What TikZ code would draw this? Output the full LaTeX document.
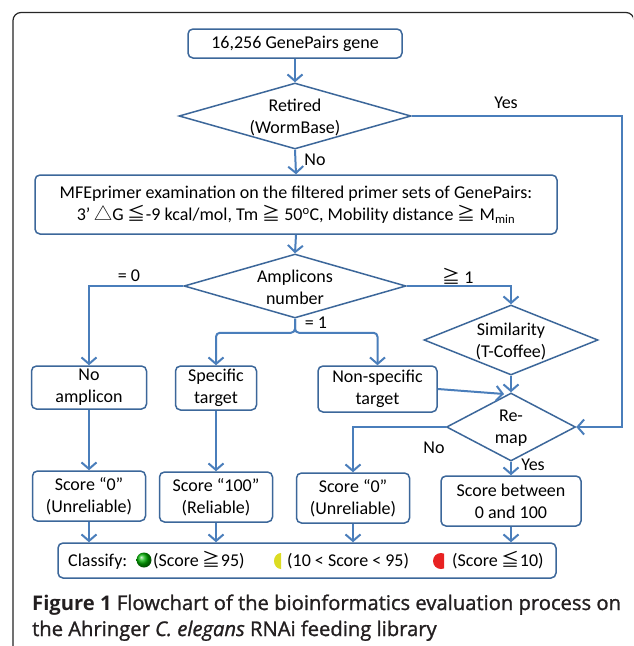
\documentclass[tikz,border=0pt]{standalone}
\usepackage{fontspec}
\setmainfont{Carlito}
\newfontfamily\cjk{Noto Sans CJK SC}
\newfontfamily\capfont[UprightFeatures={FakeBold=1.2},ItalicFeatures={FakeBold=1.2}]{Open Sans}
\usetikzlibrary{shapes.geometric,arrows.meta}
\definecolor{conn}{HTML}{4A7EBB}
\definecolor{edgec}{HTML}{3C679A}
\definecolor{ycol}{HTML}{DCDC22}
\definecolor{rcol}{HTML}{E82222}
\definecolor{capc}{HTML}{231F20}
\begin{document}
\begin{tikzpicture}[x=1pt,y=-1pt,
  font=\fontsize{18}{22}\selectfont,
  box/.style={draw=edgec, line width=1.5pt, rounded corners=5pt, fill=white, inner sep=0pt, align=center},
  dia/.style={draw=edgec, line width=1.5pt, diamond, fill=white, inner sep=0pt},
  txt/.style={inner sep=0pt, align=center},
  con/.style={draw=conn, line width=2pt, -{Straight Barb[length=6.5pt,width=15pt]}},
  lab/.style={inner sep=0pt},
  capstyle/.style={inner sep=0pt, font=\capfont\fontsize{20.2}{26}\selectfont, text=capc}]
\useasboundingbox (0,0) rectangle (633,646);
\fill[white] (0,0) rectangle (633,646);
\begin{scope}
\clip (0,0) rectangle (633,646);
\draw[line width=1.2pt, black!85, rounded corners=8pt] (13,720) -- (13,12.5) -- (634,12.5) -- (634,720);
\end{scope}

% nodes
\node[box, minimum width=214pt, minimum height=29pt] (b1) at (295,43.5) {16,256 GenePairs gene};
\node[dia, minimum width=232pt, minimum height=66pt] (d1) at (295,116) {};
\node[txt] (d1t) at (295,117) {Retired\\(WormBase)};
\node[box, minimum width=522pt, minimum height=59pt] (mfe) at (296,204.5) {MFEprimer examination on the filtered primer sets of GenePairs:\\3’ {\cjk △}G {\cjk ≦}-9 kcal/mol, Tm {\cjk ≧} 50\textsuperscript{o}C, Mobility distance {\cjk ≧} M\textsubscript{min}};
\node[dia, minimum width=222pt, minimum height=64pt] (d2) at (295,286) {};
\node[txt] (d2t) at (295,287) {Amplicons\\number};
\node[dia, minimum width=174pt, minimum height=70pt] (sim) at (511,340) {};
\node[txt] (simt) at (511,341) {Similarity\\(T-Coffee)};
\node[dia, minimum width=129pt, minimum height=68pt] (remap) at (511,427) {};
\node[txt] (remapt) at (511,428) {Re-\\map};

\node[box, minimum width=115pt, minimum height=43pt] (noamp) at (89,387.5) {No\\amplicon};
\node[box, minimum width=81pt, minimum height=44pt] (spec) at (216,388) {Specific\\target};
\node[box, minimum width=119pt, minimum height=46pt] (nonspec) at (377.5,389) {Non-specific\\target};

\node[box, minimum width=113pt, minimum height=50pt] (s0a) at (89,496) {Score “0”\\(Unreliable)};
\node[box, minimum width=113pt, minimum height=50pt] (s100) at (216,497) {Score “100”\\(Reliable)};
\node[box, minimum width=113pt, minimum height=50pt] (s0b) at (353,498) {Score “0”\\(Unreliable)};
\node[box, minimum width=140pt, minimum height=50pt] (sbet) at (511,501) {Score between\\0 and 100};

\node[box, minimum width=498pt, minimum height=35pt] (cls) at (307,560.5) {};
\node[lab, anchor=base west] (clsa) at (68,566) {Classify:};
\node[circle, inner sep=0pt, minimum size=15pt, shading=ball, ball color=green!70!black] (gball) at (144,560) {};
\node[lab, anchor=base west] (clsb) at (153,566) {(Score {\cjk ≧}95)};
\begin{scope}
\clip (270,550) rectangle (281,572);
\fill[ycol] (281,561) ellipse (7 and 8);
\end{scope}
\node[lab, anchor=base west] (clsc) at (287,566) {(10 < Score < 95)};
\begin{scope}
\clip (430,550) rectangle (444,572);
\fill[rcol] (441,561) ellipse (8 and 8);
\end{scope}
\node[lab, anchor=base west] (clsd) at (452,566) {(Score {\cjk ≦}10)};

% labels
\node[lab] (lyes1) at (506,103) {Yes};
\node[lab] (lno1) at (315,160) {No};
\node[lab] (leq0) at (129,276) {= 0};
\node[lab] (lge1) at (458,276) {{\cjk ≧} 1};
\node[lab] (leq1) at (316,323) {= 1};
\node[lab] (lno2) at (434,448) {No};
\node[lab] (lyes2) at (533,465) {Yes};

% connectors
\coordinate (yesc) at (622,116);
\coordinate (nsend) at (504,394);
\draw[con] (b1.south) -- (d1.north);
\draw[con] (d1.south) -- (mfe.north);
\draw[con] (mfe.south) -- (d2.north);
\draw[con] (d1.east) -- (yesc) |- (remap.east);
\draw[con] (d2.west) -| (noamp.north);
\draw[con] (d2.east) -| (sim.north);
\draw[con, rounded corners=4pt] (d2.south) -- ++(0,14) -| (spec.north);
\draw[con, rounded corners=4pt] (d2.south) -- ++(0,14) -| (nonspec.north);
\draw[con] (sim.south) -- (remap.north);
\draw[con] (nonspec.east) -- (nsend);
\draw[con] (remap.west) -| (s0b.north);
\draw[con] (remap.south) -- (sbet.north);
\draw[con] (noamp.south) -- (s0a.north);
\draw[con] (spec.south) -- (s100.north);
\draw[con] (s0a.south) -- (s0a.south |- cls.north);
\draw[con] (s100.south) -- (s100.south |- cls.north);
\draw[con] (s0b.south) -- (s0b.south |- cls.north);
\draw[con] (sbet.south) -- (sbet.south |- cls.north);

% caption
\node[capstyle, anchor=base west] (cap1) at (32,610) {\textbf{Figure 1} Flowchart of the bioinformatics evaluation process on};
\node[capstyle, anchor=base west] (cap2) at (32,636) {the Ahringer \textit{C. elegans} RNAi feeding library};
\end{tikzpicture}
\end{document}
